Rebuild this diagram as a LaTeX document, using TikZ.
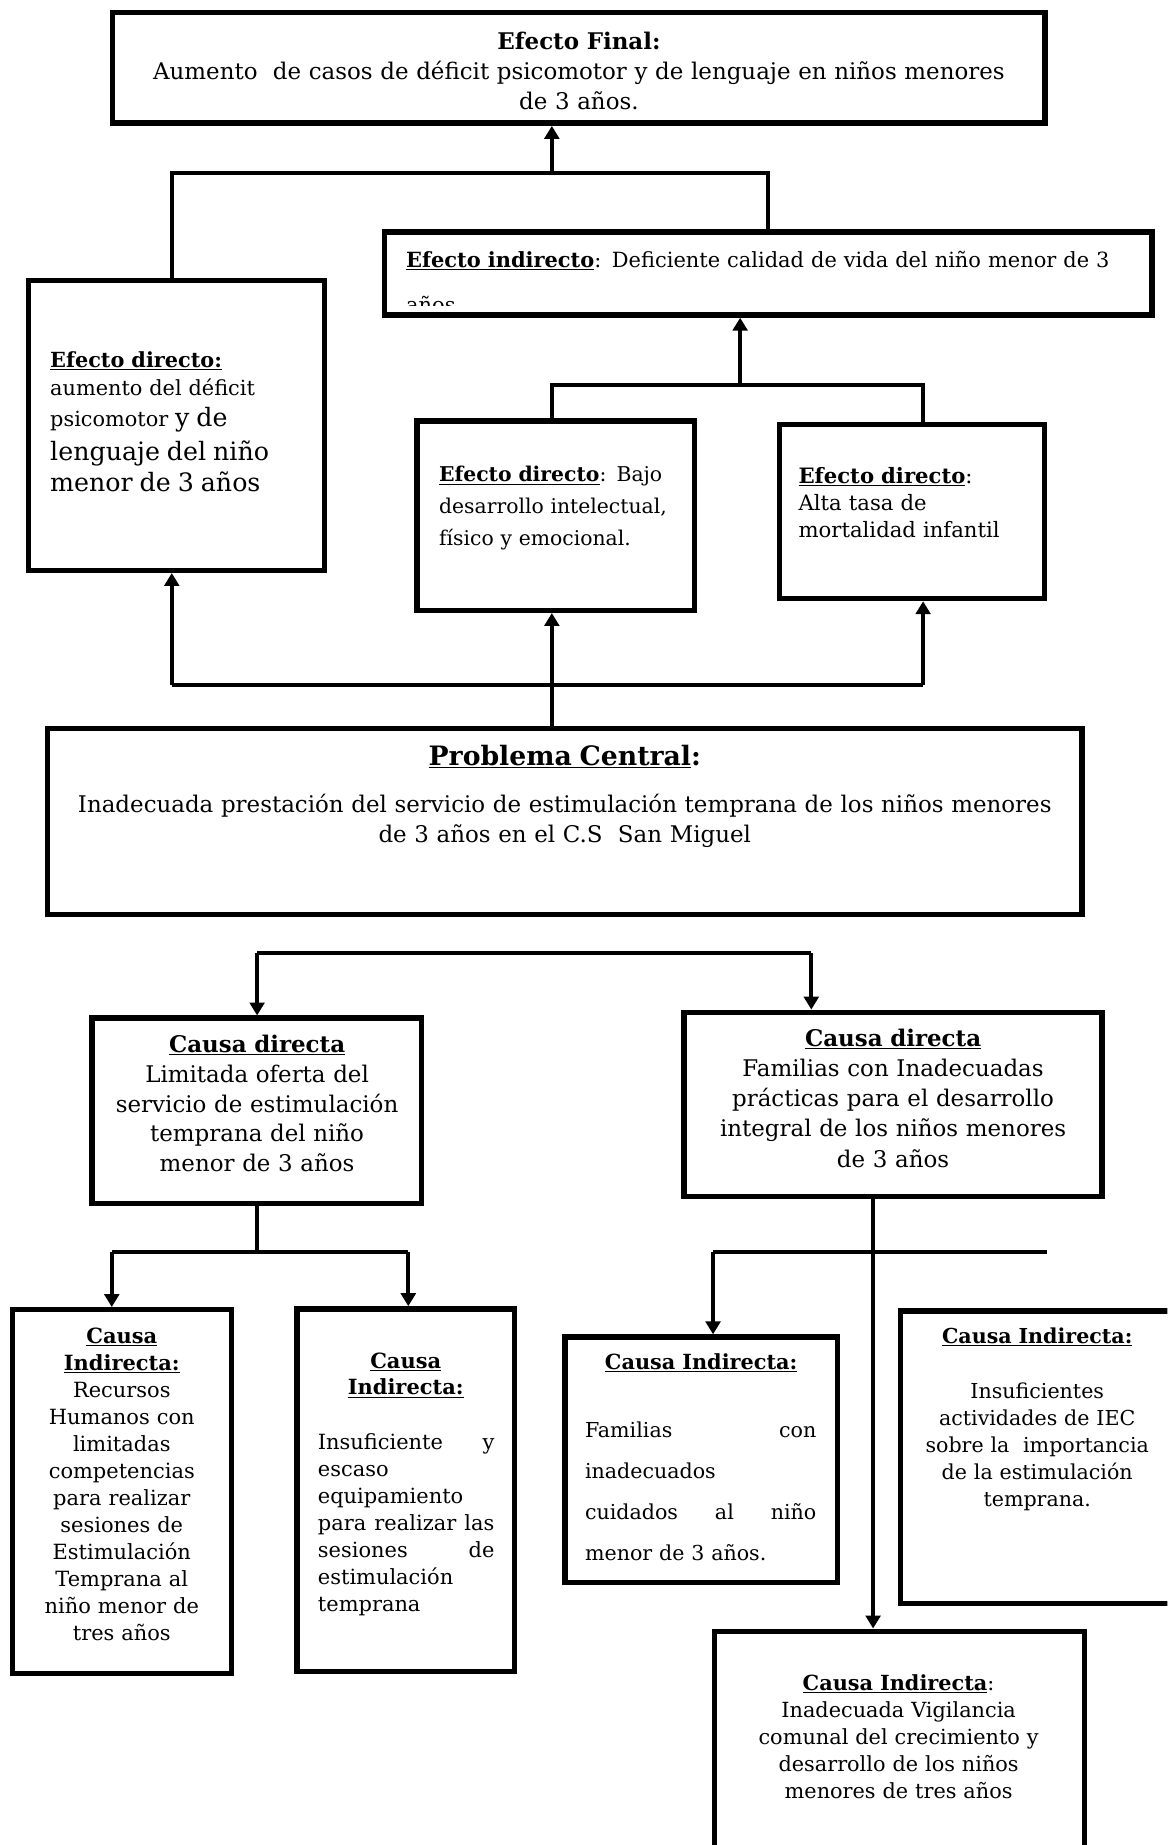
\documentclass[tikz,border=0pt]{standalone}
\usepackage{fontspec}
\setmainfont{DejaVu Serif}
\usetikzlibrary{arrows.meta}
\def\fbody{\fontsize{17.7}{23}\selectfont}
\def\fmain{\fontsize{19.5}{25.5}\selectfont}
\def\titulo#1{\underline{\textbf{#1}}}
\tikzset{
	caja/.style={draw, line width=4.6pt},
	texto/.style={inner sep=0pt, text width=#1},
	conn/.style={line width=3.6pt},
	arr/.style={conn, -{Triangle[length=11pt,width=12.5pt]}},
}

\begin{document}
\begin{tikzpicture}[x=1pt, y=-1pt]
		%%%%% START %%%%%
		\fill[white] (0,0) rectangle (992,1568);
		\useasboundingbox (0,0) rectangle (992,1568);
		\clip (0,0) rectangle (992,1568);
		
		%%%%% EFECTOS %%%%%
		\node[caja, minimum width=792.4pt, minimum height=93.9pt] (efinal) at (492,57.75) {};
		\node[texto=790pt, align=center, anchor=base, font=\fmain] (tfinal) at (492,42) {\textbf{Efecto Final:}\\ Aumento\ \ de casos de déficit psicomotor y de lenguaje en niños menores\\ de 3 años.};
		
		\node[caja, minimum width=652.4pt, minimum height=70.4pt] (eind) at (653,232.5) {};
		\begin{scope}
			\clip (327,197) rectangle (979,259.5);
			\node[texto=630pt, align=left, anchor=base west, font=\fontsize{17.8}{38.5}\selectfont] (tind) at (345,227) {\titulo{Efecto indirecto}: Deficiente calidad de vida del niño menor de 3\\ años};
		\end{scope}
		
		\node[caja, minimum width=251.4pt, minimum height=246.4pt] (edir1) at (150,361.5) {};
		\node[texto=230pt, align=left, anchor=base west, font=\fontsize{17.7}{23.5}\selectfont] (tedir1) at (42.5,312.5) {\titulo{Efecto directo:}\\ aumento del déficit\\[3.2pt] psicomotor {\fontsize{21.5}{23.5}\selectfont y de}\\[4.8pt] {\fontsize{21.5}{23.5}\selectfont lenguaje del niño}\\[3.5pt] {\fontsize{21.5}{23.5}\selectfont menor de 3 años}};
		
		\node[caja, minimum width=235.9pt, minimum height=160.9pt] (edir2) at (472.25,438.25) {};
		\node[texto=215pt, align=left, anchor=base west, font=\fontsize{17.3}{27}\selectfont] (tedir2) at (373,409.5) {\titulo{Efecto directo}: Bajo\\ desarrollo intelectual,\\ físico y emocional.};
		
		\node[caja, minimum width=225.4pt, minimum height=147.9pt] (edir3) at (775,434.75) {};
		\node[texto=205pt, align=left, anchor=base west, font=\fontsize{18}{23}\selectfont] (tedir3) at (678.5,410.9) {\titulo{Efecto directo}:\\ Alta tasa de\\ mortalidad infantil};
		
		%%%%% PROBLEMA %%%%%
		\node[caja, minimum width=879.4pt, minimum height=157.9pt] (prob) at (480,698.25) {};
		\node[texto=870pt, align=center, anchor=base, font=\fmain] (tprob) at (480,650.3) {{\fontsize{22.7}{25.5}\selectfont\titulo{Problema Central}\textbf{:}}\\[15pt] Inadecuada prestación del servicio de estimulación temprana de los niños menores\\ de 3 años en el C.S\ \ San Miguel};
		
		%%%%% CAUSAS %%%%%
		\node[caja, minimum width=279.9pt, minimum height=157.4pt] (cd1) at (218.25,944) {};
		\node[texto=275pt, align=center, anchor=base, font=\fontsize{19.5}{25.3}\selectfont] (tcd1) at (218.5,894.5) {\titulo{Causa directa}\\ Limitada oferta del\\ servicio de estimulación\\ temprana del niño\\ menor de 3 años};
		
		\node[caja, minimum width=355.4pt, minimum height=156.4pt] (cd2) at (759,938.5) {};
		\node[texto=350pt, align=center, anchor=base, font=\fontsize{19.5}{25.7}\selectfont] (tcd2) at (759,889) {\titulo{Causa directa}\\ Familias con Inadecuadas\\ prácticas para el desarrollo\\ integral de los niños menores\\ de 3 años};
		
		\node[caja, minimum width=186pt, minimum height=309.2pt] (ci1) at (103.5,1267.7) {};
		\node[texto=180pt, align=center, anchor=base, font=\fontsize{17.8}{23}\selectfont] (tci1) at (103.5,1141.6) {\titulo{Causa}\\ \titulo{Indirecta:}\\ Recursos\\ Humanos con\\ limitadas\\ competencias\\ para realizar\\ sesiones de\\ Estimulación\\ Temprana al\\ niño menor de\\ tres años};
		
		\node[caja, minimum width=185.1pt, minimum height=308.1pt] (ci2) at (344.85,1266.4) {};
		\node[texto=180pt, align=center, anchor=base, font=\fontsize{17.8}{22.5}\selectfont] (tci2h) at (344.8,1163) {\titulo{Causa}\\ \titulo{Indirecta:}};
		\node[texto=150pt, align=left, anchor=base west, font=\fontsize{17.8}{23}\selectfont] (tci2) at (270,1231.6) {Insuficiente\hfill y\\ escaso\\ equipamiento\\ para\hfill realizar\hfill las\\ sesiones\hfill de\\ estimulación\\ temprana};
		
		\node[caja, minimum width=231.4pt, minimum height=208.4pt] (ci3) at (596,1240.5) {};
		\node[texto=220pt, align=center, anchor=base, font=\fbody] (tci3h) at (595.9,1163.8) {\titulo{Causa Indirecta:}};
		\node[texto=196.6pt, align=left, anchor=base west, font=\fontsize{17.5}{34.8}\selectfont] (tci3) at (497,1222) {Familias\hfill con\\ inadecuados\\ cuidados\hfill al\hfill niño\\ menor de 3 años.};
		
		\node[caja, minimum width=242.4pt, minimum height=248.4pt] (ci4) at (886.5,1238.5) {};
		\node[texto=215pt, align=center, anchor=base, font=\fontsize{17.5}{23}\selectfont] (tci4) at (881.5,1141.9) {\titulo{Causa Indirecta:}\\[23.8pt] Insuficientes\\ actividades de IEC\\ sobre la\ \ importancia\\ de la estimulación\\ temprana.};
		
		\node[caja, minimum width=314.4pt, minimum height=211.4pt] (ci5) at (764.5,1492) {};
		\node[texto=300pt, align=center, anchor=base, font=\fbody] (tci5) at (763.7,1436.6) {\titulo{Causa Indirecta}:\\ Inadecuada Vigilancia\\ comunal del crecimiento y\\ desarrollo de los niños\\ menores de tres años};
		
		%%%%% CONECTORES %%%%%
		\coordinate (jfin) at (469,147);
		\coordinate (jind) at (629,327);
		\coordinate (jl) at (146,582);
		\coordinate (jr) at (784.5,582);
		\coordinate (jc1) at (218.5,810);
		\coordinate (jc2) at (689.5,810);
		\coordinate (k1) at (95,1064);
		\coordinate (k2) at (347,1064);
		\coordinate (m0) at (742,1064);
		\coordinate (m1) at (606,1064);
		\coordinate (m2) at (890,1064);
		
		\draw[arr] (jfin) -- (jfin |- efinal.south);
		\draw[conn] (jl |- edir1.north) |- (jfin) -| (eind.north);
		
		\draw[arr] (jind) -- (jind |- eind.south);
		\draw[conn] (jfin |- edir2.north) |- (jind) -| (jr |- edir3.north);
		
		\draw[arr] (jfin |- prob.north) -- (jfin |- edir2.south);
		\draw[conn] (jl) -- (jr);
		\draw[arr] (jl) -- (jl |- edir1.south);
		\draw[arr] (jr) -- (jr |- edir3.south);
		
		\draw[conn] (jc1) -- (jc2);
		\draw[arr] (jc1) -- (jc1 |- cd1.north);
		\draw[arr] (jc2) -- (jc2 |- cd2.north);
		
		\draw[conn] (cd1.south) -- (cd1.south |- k1);
		\draw[conn] (k1) -- (k2);
		\draw[arr] (k1) -- (k1 |- ci1.north);
		\draw[arr] (k2) -- (k2 |- ci2.north);
		
		\draw[arr] (m0 |- cd2.south) -- (m0 |- ci5.north);
		\draw[conn] (m1) -- (m2);
		\draw[arr] (m1) -- (m1 |- ci3.north);
		
		%%%%% END %%%%%
\end{tikzpicture}
\end{document}
